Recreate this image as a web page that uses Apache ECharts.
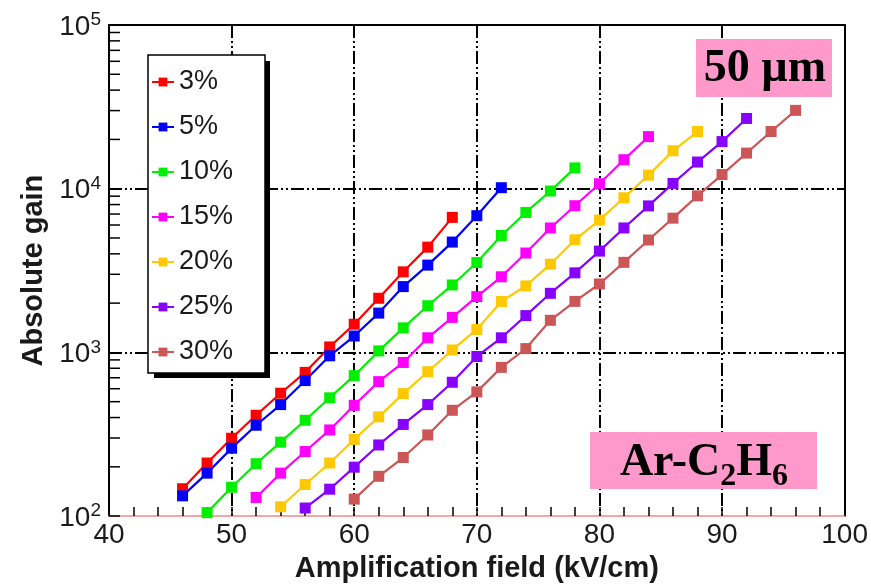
<!DOCTYPE html>
<html><head><meta charset="utf-8">
<script src="https://cdn.jsdelivr.net/npm/echarts@6/dist/echarts.min.js"></script>
<style>html,body{margin:0;padding:0;background:#fff}#c{width:871px;height:588px}</style>
</head><body><div id="c"></div>
<script>
// ---- data ----
var seriesNames = ['3%', '5%', '10%', '15%', '20%', '25%', '30%'];
var seriesColors = ['#ff0000', '#0000ff', '#00f000', '#ff00ff', '#ffc800', '#8800ff', '#cc5555'];
var field3 = [46,48,50,52,54,56,58,60,62,64,66,68];
var gain3 = [147,211,299,413,563,755,1080,1486,2142,3105,4395,6680];
var field5 = [46,48,50,52,54,56,58,60,62,64,66,68,70,72];
var gain5 = [133,183,260,359,480,673,953,1259,1738,2523,3413,4720,6840,10140];
var field10 = [48,50,52,54,56,58,60,62,64,66,68,70,72,74,76,78];
var gain10 = [105,150,209,283,385,528,721,1021,1412,1928,2582,3539,5180,7160,9680,13400];
var field15 = [52,54,56,58,60,62,64,66,68,70,72,74,76,78,80,82,84];
var gain15 = [130,183,248,336,475,663,868,1228,1637,2191,2896,4046,5757,7870,10720,15030,20800];
var field20 = [54,56,58,60,62,64,66,68,70,72,74,76,78,80,82,84,86,88];
var gain20 = [114,156,211,294,404,560,762,1035,1381,2047,2548,3459,4875,6432,8800,12100,17050,22350];
var field25 = [56,58,60,62,64,66,68,70,72,74,76,78,80,82,84,86,88,90,92];
var gain25 = [112,146,199,272,363,480,657,944,1228,1678,2296,3062,4158,5757,7850,10770,14550,19400,26860];
var field30 = [60,62,64,66,68,70,72,74,76,78,80,82,84,86,88,90,92,94,96];
var gain30 = [127,175,228,313,443,574,810,1055,1571,2050,2618,3550,4860,6608,9040,12200,16500,22350,30100];
var xTicks = [40,50,60,70,80,90,100];
var yDecades = [100,1000,10000,100000];
var xName = 'Amplification field (kV/cm)';
var yName = 'Absolute gain';

var fields = [field3, field5, field10, field15, field20, field25, field30];
var gains = [gain3, gain5, gain10, gain15, gain20, gain25, gain30];

var FONT = 'Arial, "Liberation Sans", sans-serif';
var TXT = '#1a1a1a';
var gridDash = [13, 3, 2, 3, 2, 3];

var chart = echarts.init(document.getElementById('c'), null, {renderer: 'canvas'});

var series = seriesNames.map(function (n, i) {
  return {
    name: n, type: 'line', xAxisIndex: 0, yAxisIndex: 0,
    data: fields[i].map(function (f, j) { return [f, gains[i][j]]; }),
    symbol: 'rect', symbolSize: 11, showSymbol: true,
    lineStyle: {color: seriesColors[i], width: 2.2},
    itemStyle: {color: seriesColors[i]},
    z: 3, animation: false
  };
});

chart.setOption({
  animation: false,
  backgroundColor: '#fff',
  textStyle: {fontFamily: FONT},
  grid: {left: 109, right: 26, top: 25, bottom: 66, containLabel: false},
  legend: {
    orient: 'vertical', left: 151, top: 67, itemWidth: 22, itemHeight: 11,
    itemGap: 15, padding: 0, z: 10,
    textStyle: {fontSize: 27, color: TXT, fontFamily: FONT, lineHeight: 30},
    data: seriesNames
  },
  xAxis: [{
    type: 'value', min: xTicks[0], max: xTicks[xTicks.length - 1], interval: 10,
    name: xName, nameLocation: 'middle', nameGap: 33,
    nameTextStyle: {fontSize: 29, fontWeight: 'bold', color: TXT, fontFamily: FONT},
    axisLine: {show: true, lineStyle: {color: '#f2a6a6', width: 2}},
    axisTick: {show: true, inside: true, length: 9, lineStyle: {color: '#000', width: 1.5}},
    minorTick: {show: true, splitNumber: 5, length: 9, lineStyle: {color: '#000', width: 1.5}},
    axisLabel: {fontSize: 28, color: TXT, margin: 5, fontFamily: FONT},
    splitLine: {show: true, showMinLine: false, showMaxLine: false, lineStyle: {color: '#000', width: 2, type: gridDash}}
  }, {
    type: 'value', position: 'top', min: xTicks[0], max: xTicks[xTicks.length - 1],
    axisLine: {show: true, lineStyle: {color: '#000', width: 2}},
    axisTick: {show: false}, axisLabel: {show: false}, splitLine: {show: false}
  }],
  yAxis: [{
    type: 'log', logBase: 10, min: yDecades[0], max: yDecades[yDecades.length - 1],
    name: yName, nameLocation: 'middle', nameGap: 61,
    nameTextStyle: {fontSize: 29, fontWeight: 'bold', color: TXT, fontFamily: FONT},
    axisLine: {show: true, lineStyle: {color: '#000', width: 2}},
    axisTick: {show: true, inside: true, length: 11, lineStyle: {color: '#000', width: 1.5}},
    axisLabel: {
      margin: 8, color: TXT,
      formatter: function (v) { return '{b|10}{s|' + Math.round(Math.log10(v)) + '}'; },
      rich: {
        b: {fontSize: 28, color: TXT, fontFamily: FONT, padding: [4, 0, 0, 0]},
        s: {fontSize: 19, color: TXT, fontFamily: FONT, padding: [0, 0, 10, 0]}
      }
    },
    splitLine: {show: true, showMinLine: false, showMaxLine: false, lineStyle: {color: '#000', width: 2, type: gridDash}}
  }, {
    type: 'value', position: 'right', min: 0, max: 1,
    axisLine: {show: true, lineStyle: {color: '#000', width: 2}},
    axisTick: {show: false}, axisLabel: {show: false}, splitLine: {show: false}
  }],
  series: series
});

// minor log ticks on the y axis, positioned through the axis scale
var gfx = [];
var x0 = chart.convertToPixel({xAxisIndex: 0}, xTicks[0]);
for (var d = 0; d < yDecades.length - 1; d++) {
  for (var m = 2; m <= 9; m++) {
    var py = chart.convertToPixel({yAxisIndex: 0}, yDecades[d] * m);
    gfx.push({type: 'line', z: 6, silent: true,
      shape: {x1: x0, y1: py, x2: x0 + 11, y2: py},
      style: {stroke: '#000', lineWidth: 1.5}});
  }
}
// legend frame with shadow
gfx.push({type: 'rect', z: 7, shape: {x: 154, y: 61, width: 116, height: 317}, style: {fill: '#000'}});
gfx.push({type: 'rect', z: 8, shape: {x: 148, y: 55, width: 117, height: 318}, style: {fill: '#fff', stroke: '#000', lineWidth: 1.5}});
// annotation boxes
gfx.push({type: 'rect', z: 8, shape: {x: 696, y: 39, width: 136, height: 58}, style: {fill: '#ff99cc'}});
gfx.push({type: 'text', z: 9, x: 765, y: 69, style: {
  text: '50 µm', fill: '#000', font: 'bold 46px "Liberation Serif", "Times New Roman", serif',
  align: 'center', verticalAlign: 'middle'}});
gfx.push({type: 'rect', z: 8, shape: {x: 590, y: 432, width: 227, height: 57}, style: {fill: '#ff99cc'}});
gfx.push({type: 'text', z: 9, x: 704, y: 470, style: {
  text: '{m|Ar-C}{s|2}{m|H}{s|6}', fill: '#000', align: 'center', verticalAlign: 'middle',
  rich: {
    m: {fontSize: 46, fontWeight: 'bold', fontFamily: '"Liberation Serif", "Times New Roman", serif', fill: '#000', padding: [0, 0, 14, 0]},
    s: {fontSize: 32, fontWeight: 'bold', fontFamily: '"Liberation Serif", "Times New Roman", serif', fill: '#000', padding: [14, 0, 0, 0]}
  }}});
chart.setOption({graphic: gfx});
</script>
</body></html>
